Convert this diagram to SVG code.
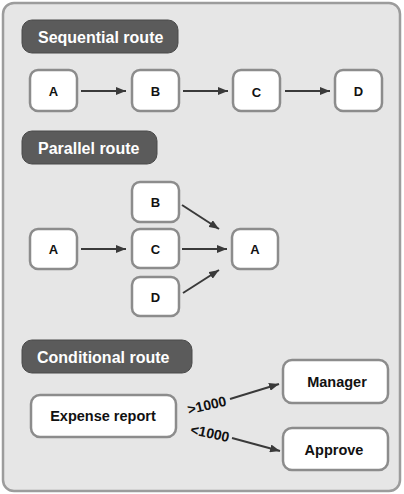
<svg xmlns="http://www.w3.org/2000/svg" width="404" height="494" viewBox="0 0 404 494">
<defs>
<style>
.panel{fill:#e6e6e6;stroke:#9c9c9c;stroke-width:2.5}
.hdr rect{fill:#5b5b5b;stroke:#4a4a4a;stroke-width:1}
.hdr text{fill:#ffffff;font-family:"Liberation Sans",Arial,sans-serif;font-weight:bold;font-size:16px}
.node rect{fill:#ffffff;stroke:#8c8c8c;stroke-width:2.5}
.node text{fill:#111111;font-family:"Liberation Sans",Arial,sans-serif;font-weight:bold;font-size:13px;text-anchor:middle}
.node text.big{font-size:14.5px}
.edge{stroke:#3a3a3a;stroke-width:2;fill:none;marker-end:url(#ah)}
.lbl{fill:#111111;font-family:"Liberation Sans",Arial,sans-serif;font-weight:bold;font-size:14px;text-anchor:middle}
</style>
<marker id="ah" markerWidth="10" markerHeight="8" refX="10" refY="4" orient="auto" markerUnits="userSpaceOnUse">
<path d="M0,0 L10,4 L0,8 Z" fill="#3a3a3a"/>
</marker>
</defs>
<rect class="panel" x="3" y="3" width="397" height="488" rx="11"/>

<g id="hdr-seq" class="hdr"><rect x="22" y="20" width="156" height="33" rx="10"/><text x="38" y="43">Sequential route</text></g>
<g id="hdr-par" class="hdr"><rect x="22" y="131" width="135" height="33" rx="10"/><text x="38" y="154">Parallel route</text></g>
<g id="hdr-cond" class="hdr"><rect x="22" y="340" width="170" height="33" rx="10"/><text x="37" y="363">Conditional route</text></g>

<g id="seq-a" class="node"><rect x="30" y="70" width="47" height="41" rx="8"/><text x="53.5" y="96">A</text></g>
<g id="seq-b" class="node"><rect x="132" y="70" width="47" height="41" rx="8"/><text x="155.5" y="96">B</text></g>
<g id="seq-c" class="node"><rect x="233" y="70" width="47" height="41" rx="8"/><text x="256.5" y="97">C</text></g>
<g id="seq-d" class="node"><rect x="335" y="70" width="47" height="41" rx="8"/><text x="358.5" y="96">D</text></g>

<g id="par-a1" class="node"><rect x="30" y="229" width="47" height="40" rx="8"/><text x="53.5" y="254">A</text></g>
<g id="par-b" class="node"><rect x="132" y="182" width="47" height="40" rx="8"/><text x="155.5" y="207">B</text></g>
<g id="par-c" class="node"><rect x="132" y="229" width="47" height="39" rx="8"/><text x="155.5" y="254">C</text></g>
<g id="par-d" class="node"><rect x="132" y="277" width="47" height="39" rx="8"/><text x="155.5" y="302">D</text></g>
<g id="par-a2" class="node"><rect x="232" y="229" width="46" height="40" rx="8"/><text x="255" y="254">A</text></g>

<g id="expense" class="node"><rect x="31" y="395" width="145" height="42" rx="9"/><text class="big" x="103" y="421">Expense report</text></g>
<g id="manager" class="node"><rect x="283" y="360" width="105" height="43" rx="9"/><text class="big" x="337" y="387">Manager</text></g>
<g id="approve" class="node"><rect x="283" y="428" width="105" height="42" rx="9"/><text class="big" x="334" y="455">Approve</text></g>

<g id="connectors">
<line class="edge" x1="81" y1="91" x2="126" y2="91"/>
<line class="edge" x1="183" y1="91" x2="228" y2="91"/>
<line class="edge" x1="285" y1="91" x2="330" y2="91"/>
<line class="edge" x1="81" y1="249" x2="126" y2="249"/>
<line class="edge" x1="182" y1="249" x2="227" y2="249"/>
<line class="edge" x1="182" y1="205" x2="219" y2="229"/>
<line class="edge" x1="183" y1="293" x2="219" y2="270"/>
<line class="edge" x1="230" y1="399" x2="279" y2="384"/>
<line class="edge" x1="232" y1="438" x2="280" y2="451"/>
<text class="lbl" transform="translate(208,410) rotate(-13)">&gt;1000</text>
<text class="lbl" transform="translate(209,438) rotate(12)">&lt;1000</text>
</g>
</svg>
